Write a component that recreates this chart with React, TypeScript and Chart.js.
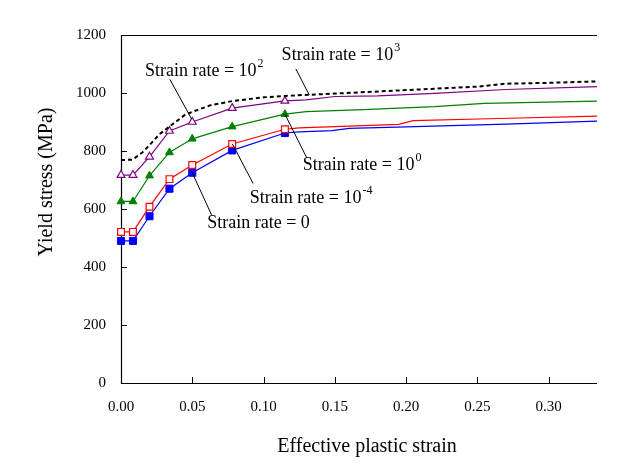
import React, { useEffect, useRef } from 'react';
import { Chart, registerables } from 'chart.js';

Chart.register(...registerables);

// ---- data ----
const xTicks = [0, 0.05, 0.1, 0.15, 0.2, 0.25, 0.3];
const yTicks = [0, 200, 400, 600, 800, 1000, 1200];
const xMax = 0.334;
const markerCount = 7;

const rate0Strain = [0, 0.0084, 0.02, 0.034, 0.05, 0.078, 0.115, 0.125, 0.148, 0.16, 0.2, 0.27, 0.334];
const rate0Stress = [490, 490, 575, 670, 725, 802, 862, 866, 870, 878, 883, 893, 903];

const rateM4Strain = [0, 0.0084, 0.02, 0.034, 0.05, 0.078, 0.115, 0.125, 0.15, 0.195, 0.205, 0.265, 0.334];
const rateM4Stress = [521, 521, 608, 703, 752, 824, 875, 880, 884, 892, 905, 912, 920];

const rate1Strain = [0, 0.0084, 0.02, 0.034, 0.05, 0.078, 0.115, 0.13, 0.17, 0.22, 0.255, 0.334];
const rate1Stress = [626, 626, 715, 795, 842, 884, 927, 936, 943, 953, 964, 972];

const rate2Strain = [0, 0.0084, 0.02, 0.034, 0.05, 0.078, 0.115, 0.13, 0.15, 0.18, 0.22, 0.27, 0.334];
const rate2Stress = [717, 717, 780, 869, 900, 948, 973, 976, 988, 990, 999, 1012, 1022];

const rate3Strain = [0, 0.008, 0.015, 0.02, 0.027, 0.035, 0.045, 0.05, 0.063, 0.078, 0.1, 0.115, 0.15, 0.2, 0.25, 0.27, 0.3, 0.334];
const rate3Stress = [769, 770, 795, 820, 858, 888, 925, 935, 958, 972, 985, 990, 998, 1010, 1022, 1032, 1035, 1040];

// annotation labels: base text, superscript, text anchor (data), leader from/to (data)
const labelBase = ['Strain rate = 10', 'Strain rate = 10', 'Strain rate = 10', 'Strain rate = 10', 'Strain rate = 0'];
const labelSup = ['2', '3', '0', '-4', ''];
const labelX = [0.0168, 0.1127, 0.1276, 0.0904, 0.0605];
const labelY = [1059, 1114, 734, 621, 534];
const leaderX1 = [0.0343, 0.1227, 0.115, 0.0782, 0.05];
const leaderY1 = [1047, 1083, 927, 824, 725];
const leaderX2 = [0.0496, 0.1321, 0.1304, 0.0927, 0.0636];
const leaderY2 = [910, 993, 776, 688, 579];

const xTitle = 'Effective plastic strain';
const yTitle = 'Yield stress (MPa)';

const zip = (xs: number[], ys: number[]) => xs.map((x, i) => ({ x, y: ys[i] }));
const markerRadius = (r: number) => (ctx: any) => (ctx.dataIndex < markerCount ? r : 0);

const SERIF = '"Liberation Serif", "Times New Roman", serif';

const overlay = {
  id: 'overlay',
  beforeDatasetsDraw(chart: any) {
    const { ctx, chartArea: a, scales } = chart;
    const x = scales.x;
    const y = scales.y;
    ctx.save();
    ctx.strokeStyle = '#000';
    ctx.lineWidth = 1.2;
    ctx.beginPath();
    ctx.moveTo(a.right, a.top + 0.5);
    ctx.lineTo(a.left + 0.5, a.top + 0.5);
    ctx.lineTo(a.left + 0.5, a.bottom + 0.5);
    ctx.lineTo(a.right, a.bottom + 0.5);
    ctx.stroke();
    ctx.lineWidth = 1;
    ctx.beginPath();
    yTicks.forEach((v) => {
      const py = Math.round(y.getPixelForValue(v)) + 0.5;
      ctx.moveTo(a.left, py);
      ctx.lineTo(a.left + 6, py);
    });
    xTicks.forEach((v) => {
      const px = Math.round(x.getPixelForValue(v)) + 0.5;
      ctx.moveTo(px, a.bottom);
      ctx.lineTo(px, a.bottom - 6);
    });
    ctx.stroke();
    ctx.restore();
  },
  afterDraw(chart: any) {
    const { ctx, scales } = chart;
    const x = scales.x;
    const y = scales.y;
    ctx.save();
    ctx.fillStyle = '#000';
    ctx.strokeStyle = '#000';
    ctx.lineWidth = 1;
    // leaders
    ctx.beginPath();
    labelBase.forEach((_, i) => {
      ctx.moveTo(x.getPixelForValue(leaderX1[i]), y.getPixelForValue(leaderY1[i]));
      ctx.lineTo(x.getPixelForValue(leaderX2[i]), y.getPixelForValue(leaderY2[i]));
    });
    ctx.stroke();
    // labels
    ctx.textBaseline = 'alphabetic';
    ctx.textAlign = 'left';
    labelBase.forEach((t, i) => {
      const px = x.getPixelForValue(labelX[i]);
      const py = y.getPixelForValue(labelY[i]);
      ctx.font = `18px ${SERIF}`;
      ctx.fillText(t, px, py);
      const w = ctx.measureText(t).width;
      if (labelSup[i]) {
        ctx.font = `12px ${SERIF}`;
        ctx.fillText(labelSup[i], px + w + 1, py - 9);
      }
    });
    // axis titles
    ctx.font = `20px ${SERIF}`;
    ctx.textAlign = 'center';
    ctx.textBaseline = 'middle';
    ctx.fillText(xTitle, 367, 447);
    ctx.translate(47, 182);
    ctx.rotate(-Math.PI / 2);
    ctx.fillText(yTitle, 0, 0);
    ctx.restore();
  },
};

export default function App() {
  const ref = useRef<HTMLCanvasElement>(null);
  useEffect(() => {
    const common = { tension: 0, fill: false, clip: false as any, pointHoverRadius: 0 };
    const chart = new Chart(ref.current!, {
      type: 'line',
      data: {
        datasets: [
          {
            ...common,
            label: 'Strain rate = 10^3',
            data: zip(rate3Strain, rate3Stress),
            borderColor: '#000',
            borderWidth: 2,
            borderDash: [4, 3],
            pointRadius: 0,
          },
          {
            ...common,
            label: 'Strain rate = 10^2',
            data: zip(rate2Strain, rate2Stress),
            borderColor: '#800080',
            borderWidth: 1.2,
            pointStyle: 'triangle',
            pointRadius: markerRadius(4.5),
            pointBackgroundColor: '#fff',
            pointBorderColor: '#800080',
            pointBorderWidth: 1.2,
          },
          {
            ...common,
            label: 'Strain rate = 10^0',
            data: zip(rate1Strain, rate1Stress),
            borderColor: '#008000',
            borderWidth: 1.2,
            pointStyle: 'triangle',
            pointRadius: markerRadius(4.5),
            pointBackgroundColor: '#008000',
            pointBorderColor: '#008000',
            pointBorderWidth: 1,
          },
          {
            ...common,
            label: 'Strain rate = 10^-4',
            data: zip(rateM4Strain, rateM4Stress),
            borderColor: '#ff0000',
            borderWidth: 1.2,
            pointStyle: 'rect',
            pointRadius: markerRadius(4.8),
            pointBackgroundColor: '#fff',
            pointBorderColor: '#ff0000',
            pointBorderWidth: 1.2,
          },
          {
            ...common,
            label: 'Strain rate = 0',
            data: zip(rate0Strain, rate0Stress),
            borderColor: '#0000ff',
            borderWidth: 1.2,
            pointStyle: 'rect',
            pointRadius: markerRadius(5),
            pointBackgroundColor: '#0000ff',
            pointBorderColor: '#0000ff',
            pointBorderWidth: 1,
          },
        ],
      },
      options: {
        responsive: false,
        animation: false,
        events: [],
        layout: { padding: { top: 35, right: 25, left: 0, bottom: 0 } },
        plugins: { legend: { display: false }, tooltip: { enabled: false } },
        scales: {
          x: {
            type: 'linear',
            min: 0,
            max: xMax,
            grid: { display: false, drawTicks: false },
            border: { display: false },
            afterBuildTicks: (s: any) => {
              s.ticks = xTicks.map((v) => ({ value: v }));
            },
            afterFit: (s: any) => {
              s.height = 87;
            },
            ticks: {
              autoSkip: false,
              maxRotation: 0,
              padding: 15,
              color: '#000',
              font: { family: SERIF, size: 15 },
              callback: (v: any) => Number(v).toFixed(2),
            },
          },
          y: {
            type: 'linear',
            min: 0,
            max: 1200,
            grid: { display: false, drawTicks: false },
            border: { display: false },
            afterBuildTicks: (s: any) => {
              s.ticks = yTicks.map((v) => ({ value: v }));
            },
            afterFit: (s: any) => {
              s.width = 121;
            },
            ticks: {
              padding: 15,
              color: '#000',
              font: { family: SERIF, size: 15 },
              callback: (v: any) => String(v),
            },
          },
        },
      },
      plugins: [overlay],
    } as any);
    return () => chart.destroy();
  }, []);
  return (
    <div style={{ position: 'absolute', left: 0, top: 0, width: 622, height: 470, background: '#fff' }}>
      <canvas ref={ref} width={622} height={470} style={{ display: 'block' }} />
    </div>
  );
}
